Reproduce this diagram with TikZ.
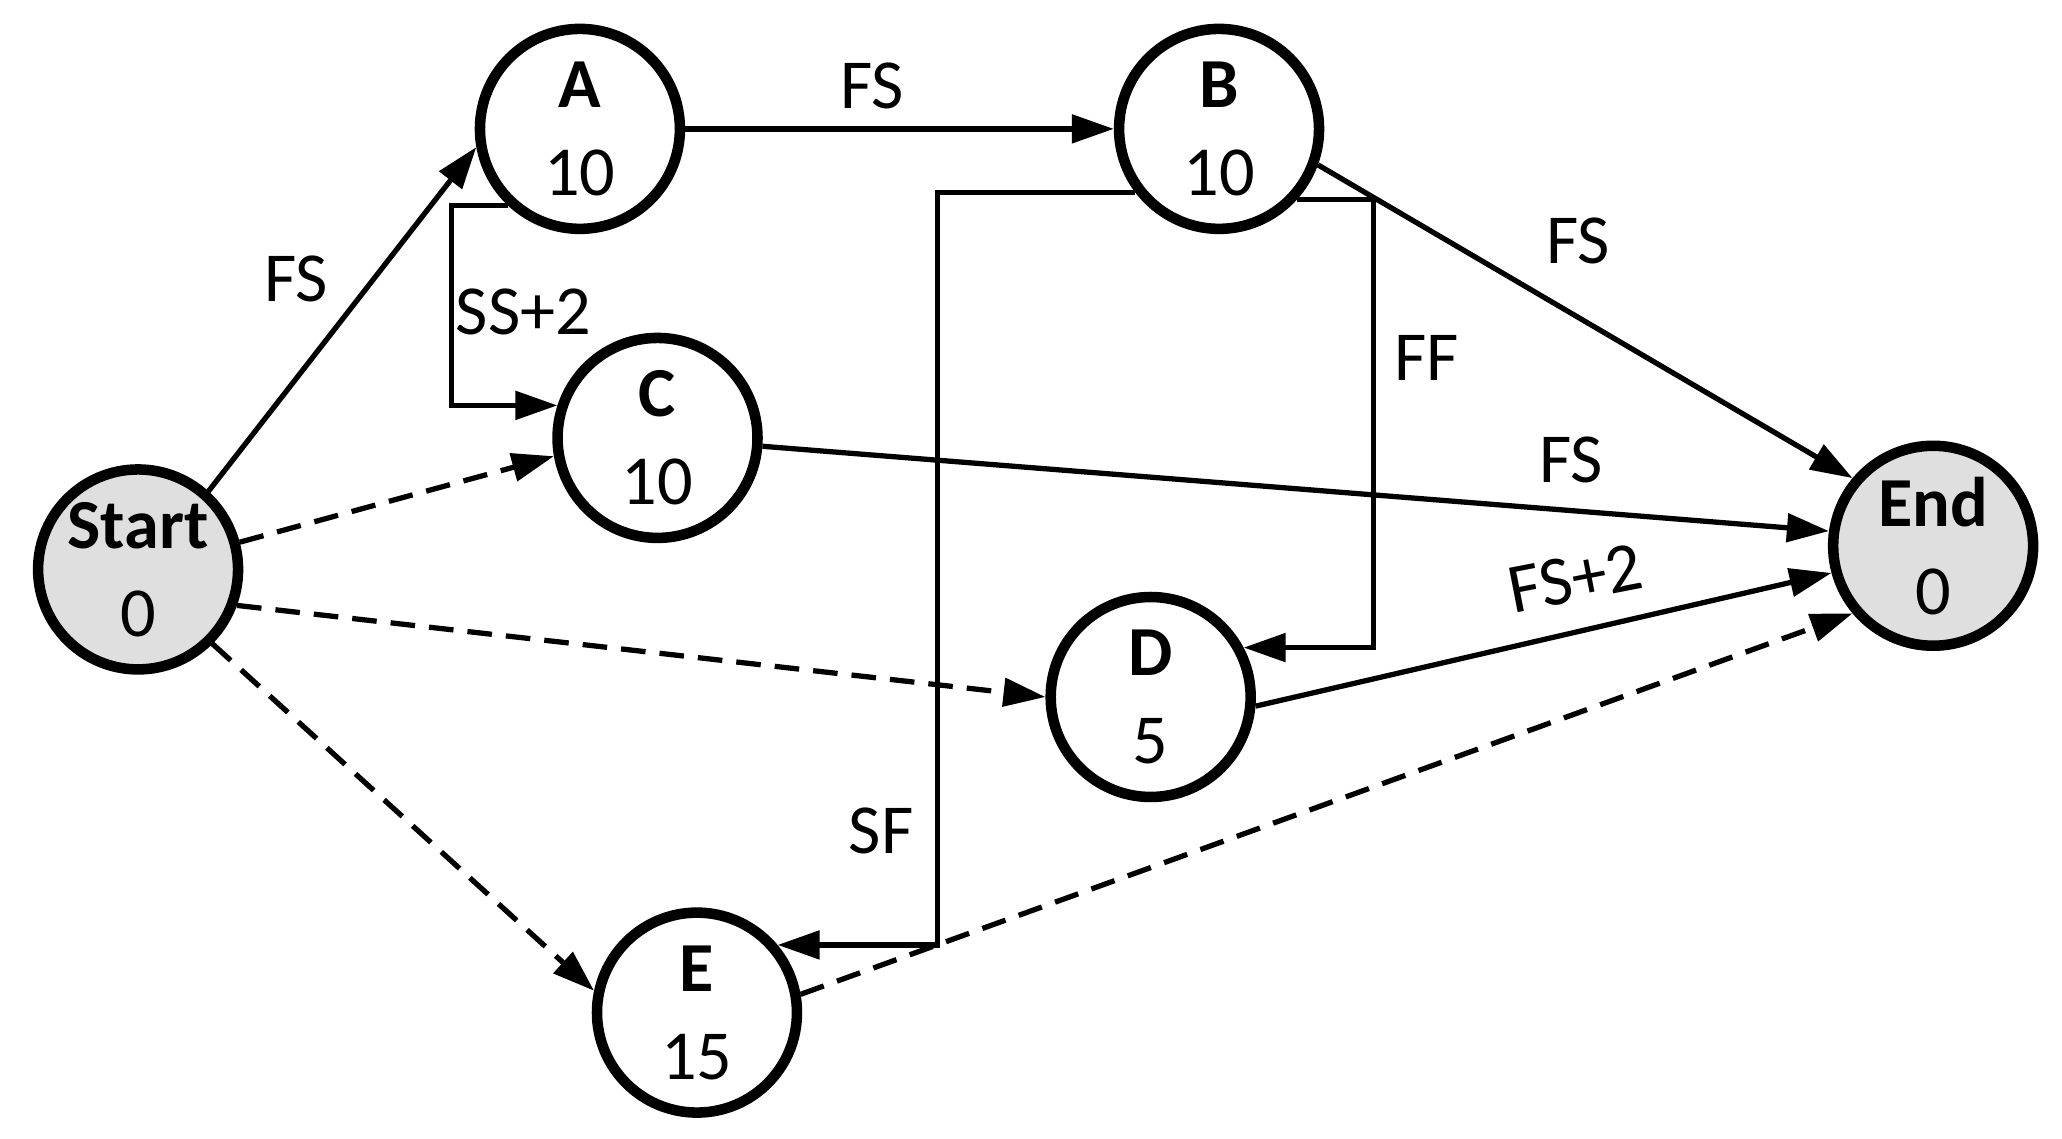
\documentclass[tikz,border=0pt]{standalone}
\usepackage{fontspec}
\setmainfont{Carlito}
\usetikzlibrary{arrows.meta}
\begin{document}
\begin{tikzpicture}[x=0.01315cm,y=-0.01315cm,
  task/.style={circle,draw,line width=3pt,minimum size=2.0cm,inner sep=0pt,align=center,font=\fontsize{20}{25}\selectfont},
  term/.style={task,fill=gray!25},
  arr/.style={line width=1.5pt,-{Triangle[length=0.42cm,width=0.28cm]}},
  dsh/.style={arr,dash pattern=on 7pt off 4pt},
  lab/.style={font=\fontsize{20}{24}\selectfont}]
\useasboundingbox (0,0) rectangle (1568,866);
\node[term] (Start) at (105,433) {\textbf{Start}\\0};
\node[task] (A) at (441,98) {\textbf{A}\\10};
\node[task] (B) at (927,98) {\textbf{B}\\10};
\node[task] (C) at (500,333) {\textbf{C}\\10};
\node[task] (D) at (875,530) {\textbf{D}\\5};
\node[task] (E) at (530,770) {\textbf{E}\\15};
\node[term] (End) at (1470,415) {\textbf{End}\\0};

\draw[arr] (Start.48) -- (A.190);
\draw[dsh] (Start.15) -- (C.190);
\draw[dsh] (Start.-20) -- (D.west);
\draw[dsh] (Start.-45) -- (E.168);
\draw[arr] (A) -- (B);
\draw[arr] (A.227) -- ++(-43,0) |- (C.162);
\draw[arr] (B.-20) -- (End.140);
\draw[arr] (C) -- (End.172);
\draw[arr] (B.-42) -- ++(58,0) |- (D.28);
\draw[arr] (B.217) -- ++(-150,0) |- (E.40);
\draw[arr] (D.-5) -- (End.195);
\draw[dsh] (E.10) -- (End.220);

\node[lab] (l1) at (225,212) {FS};
\node[lab] (l2) at (663,65) {FS};
\node[lab] (l3) at (398,237) {SS+2};
\node[lab] (l4) at (1200,183) {FS};
\node[lab] (l5) at (1195,350) {FS};
\node[lab] (l6) at (1085,272) {FF};
\node[lab] (l7) at (670,632) {SF};
\node[lab,rotate=11] (l8) at (1198,440) {FS+2};
\end{tikzpicture}
\end{document}
